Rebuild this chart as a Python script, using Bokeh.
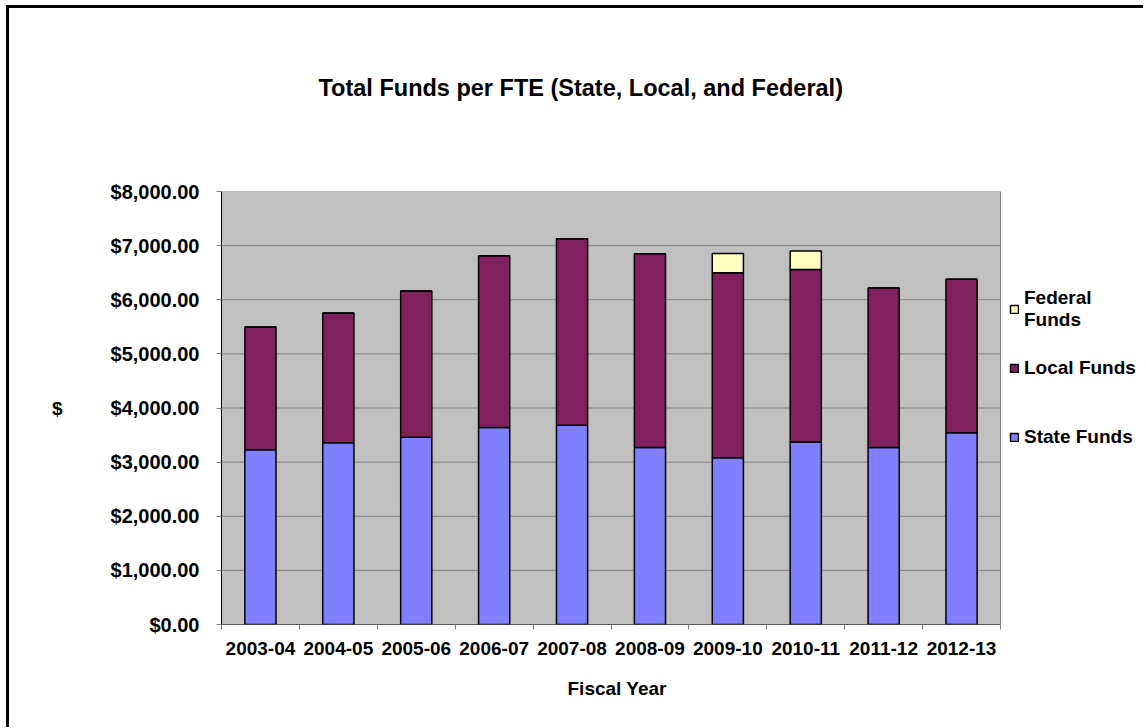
from bokeh.plotting import figure
from bokeh.layouts import column
from bokeh.models import (ColumnDataSource, Range1d, FixedTicker, NumeralTickFormatter,
                          Legend, LegendItem, Title)
from bokeh.embed import file_html
from bokeh.resources import INLINE

# ---- data ----
years = ["2003-04", "2004-05", "2005-06", "2006-07", "2007-08",
         "2008-09", "2009-10", "2010-11", "2011-12", "2012-13"]
state_funds = [3230, 3360, 3460, 3640, 3680, 3270, 3080, 3370, 3270, 3545]
local_funds = [2265, 2395, 2700, 3175, 3445, 3580, 3420, 3190, 2945, 2835]
federal_funds = [0, 0, 0, 0, 0, 0, 355, 340, 0, 0]
y_ticks = [0, 1000, 2000, 3000, 4000, 5000, 6000, 7000, 8000]

FONT = "Liberation Sans"
n = len(years)
y_max = y_ticks[-1]

W, H = 1134, 719
LEFT, TOP, BOTTOM = 212, 183, 103
PLOT_PX = 779  # width of the grey plot area
x_end = n * (W - LEFT) / PLOT_PX

xpos = [i + 0.5 for i in range(n)]
source = ColumnDataSource(dict(x=xpos, state=state_funds, local=local_funds, federal=federal_funds))

p = figure(width=W, height=H, output_backend="svg", toolbar_location=None,
           x_range=Range1d(0, x_end), y_range=Range1d(0, y_max), title=None,
           min_border_left=LEFT, min_border_right=0, min_border_top=TOP, min_border_bottom=BOTTOM,
           background_fill_color="white", border_fill_color="white")
p.outline_line_color = None

# spacer between the plot area and the title, then the title itself
p.add_layout(Title(text=" ", text_font_size="10px", standoff=78), "above")
p.add_layout(Title(text="Total Funds per FTE (State, Local, and Federal)", align="left",
                   offset=97, standoff=0, text_font=FONT, text_font_style="bold",
                   text_font_size="23.5px", text_color="black"), "above")

# plot area background and grid
p.quad(left=0, right=n, bottom=0, top=y_max, fill_color="#C0C0C0", line_color=None)
p.segment(x0=0, x1=n, y0=y_ticks[1:-1], y1=y_ticks[1:-1], line_color="#808080", line_width=1)

renderers = p.vbar_stack(["state", "local", "federal"], x="x", width=0.4, source=source,
                         fill_color=["#8080FF", "#80205F", "#FFFFC0"],
                         line_color="black", line_width=1.5)

# plot area border
p.quad(left=0, right=n, bottom=0, top=y_max, fill_color=None, line_color="#808080", line_width=1)
p.segment(x0=0, x1=n, y0=0, y1=0, line_color="black", line_width=1.2)

# axes
xa = p.xaxis[0]
xa.ticker = FixedTicker(ticks=xpos, minor_ticks=list(range(n + 1)))
xa.major_label_overrides = {x: y for x, y in zip(xpos, years)}
xa.major_tick_out = 0
xa.major_tick_in = 0
xa.minor_tick_out = 5
xa.minor_tick_in = 0
xa.minor_tick_line_color = "#808080"
xa.axis_line_color = None
xa.major_label_text_font = FONT
xa.major_label_text_font_style = "bold"
xa.major_label_text_font_size = "19px"
xa.major_label_text_color = "black"
xa.major_label_standoff = 12

p.add_layout(Title(text="Fiscal Year", align="left", offset=346, standoff=36,
                   text_font=FONT, text_font_style="bold", text_font_size="19px",
                   text_color="black"), "below")

ya = p.yaxis[0]
ya.ticker = FixedTicker(ticks=y_ticks, minor_ticks=[])
ya.formatter = NumeralTickFormatter(format="$0,0.00")
ya.major_tick_out = 5
ya.major_tick_in = 0
ya.major_tick_line_color = "#808080"
ya.minor_tick_line_color = None
ya.axis_line_color = "black"
ya.major_label_text_font = FONT
ya.major_label_text_font_style = "bold"
ya.major_label_text_font_size = "20px"
ya.major_label_text_color = "black"
ya.major_label_standoff = 17
ya.axis_label = "$"
ya.axis_label_orientation = "horizontal"
ya.axis_label_text_font = FONT
ya.axis_label_text_font_style = "bold"
ya.axis_label_text_font_size = "19px"
ya.axis_label_text_color = "black"
ya.axis_label_standoff = 45

p.xgrid.grid_line_color = None
p.ygrid.grid_line_color = None


def style_legend(lg):
    lg.padding = 0
    lg.margin = 0
    lg.glyph_width = 10
    lg.glyph_height = 10
    lg.label_height = 22
    lg.label_standoff = 5
    lg.border_line_color = None
    lg.background_fill_alpha = 0
    lg.label_text_font = FONT
    lg.label_text_font_style = "bold"
    lg.label_text_font_size = "19px"
    lg.label_text_color = "black"


legend_fed = Legend(items=[LegendItem(label="Federal\nFunds", renderers=[renderers[2]])],
                    location=(788, 293))
legend_main = Legend(items=[LegendItem(label="Local Funds", renderers=[renderers[1]]),
                            LegendItem(label="State Funds", renderers=[renderers[0]])],
                     location=(788, 176), spacing=47)
style_legend(legend_fed)
style_legend(legend_main)
p.add_layout(legend_fed, "center")
p.add_layout(legend_main, "center")

# chart frame (left and top edges are what the window shows)
page = column(p, styles={"margin-left": "6px", "margin-top": "5px",
                         "border-left": "3px solid black", "border-top": "3px solid black"})

open("out.html", "w").write(file_html(page, INLINE))
